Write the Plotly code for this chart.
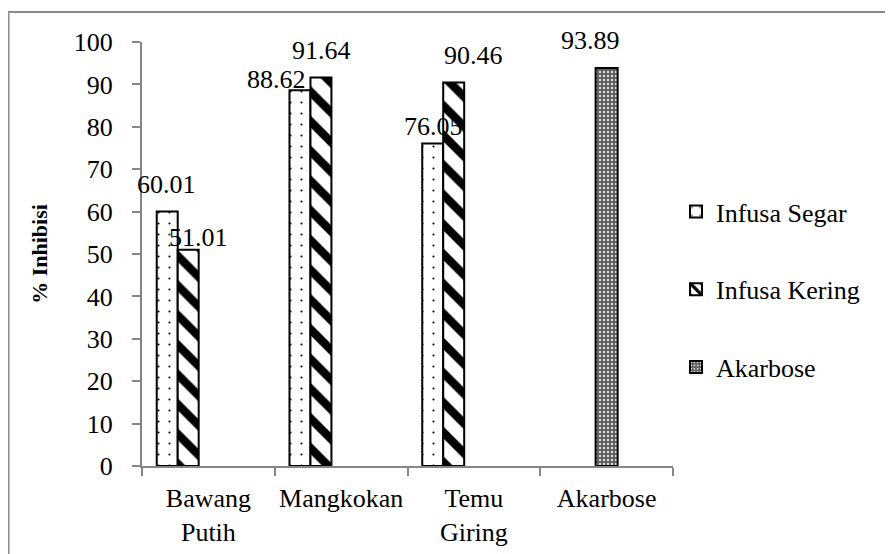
import plotly.graph_objects as go

categories = ["Bawang<br>Putih", "Mangkokan", "Temu<br>Giring", "Akarbose"]
plant_categories = categories[:3]
infusa_segar = [60.01, 88.62, 76.05]
infusa_kering = [51.01, 91.64, 90.46]
akarbose_cat = [categories[3]]
akarbose = [93.89]
y_ticks = [0, 10, 20, 30, 40, 50, 60, 70, 80, 90, 100]

FONT = "Liberation Serif, Times New Roman, serif"
AXIS_GRAY = "#868686"

# figure is offset by the page body's 8px margin
W, H = 885, 546
L, R, T, B = 134, 220, 34, 88
PW, PH = W - L - R, H - T - B  # 531 x 424


def px(fx):
    return (fx - L) / PW


def py(fy):
    return (H - B - fy) / PH


fig = go.Figure()
fig.add_trace(go.Bar(
    name="Infusa Segar", x=plant_categories, y=infusa_segar,
    offset=-0.389, width=0.158, legendgroup="a",
    marker=dict(color="white", line=dict(color="black", width=2),
                pattern=dict(shape=".", fgcolor="black", bgcolor="white", fgopacity=1,
                             size=11, solidity=0.03, fillmode="overlay")),
))
fig.add_trace(go.Bar(
    name="Infusa Kering", x=plant_categories, y=infusa_kering,
    offset=-0.231, width=0.158, legendgroup="b",
    marker=dict(color="white", line=dict(color="black", width=2),
                pattern=dict(shape="\\", fgcolor="black", bgcolor="white", fgopacity=1,
                             size=21, solidity=0.4, fillmode="overlay")),
))
fig.add_trace(go.Bar(
    name="Akarbose", x=akarbose_cat, y=akarbose,
    offset=-0.083, width=0.166, legendgroup="c",
    marker=dict(color="#606060", line=dict(color="black", width=2),
                pattern=dict(shape=".", fgcolor="#d8d8d8", bgcolor="#5c5c5c", fgopacity=1,
                             size=4, solidity=0.3, fillmode="replace")),
))

# data labels (x/y from the data; shifts are placement only)
label_specs = [
    (plant_categories[0], infusa_segar[0], -42, 27),
    (plant_categories[0], infusa_kering[0], -10, 12),
    (plant_categories[1], infusa_segar[1], -65, 11),
    (plant_categories[1], infusa_kering[1], -20, 27),
    (plant_categories[2], infusa_segar[2], -40, 17),
    (plant_categories[2], infusa_kering[2], 0, 27),
    (akarbose_cat[0], akarbose[0], -16, 27),
]
for cat, val, xs, ys in label_specs:
    fig.add_annotation(x=cat, y=val, xref="x", yref="y", text=f"{val:.2f}",
                       showarrow=False, xshift=xs, yshift=ys,
                       xanchor="center", yanchor="middle",
                       font=dict(family=FONT, size=26, color="black"))

fig.update_layout(
    width=W, height=H,
    margin=dict(l=L, r=R, t=T, b=B, autoexpand=False),
    paper_bgcolor="white", plot_bgcolor="white",
    font=dict(family=FONT, size=26, color="black"),
    barmode="overlay",
    showlegend=True,
    legend=dict(x=px(668), y=py(180), xanchor="left", yanchor="top",
                font=dict(family=FONT, size=26, color="black"),
                tracegroupgap=41, bgcolor="rgba(0,0,0,0)",
                itemsizing="constant"),
    shapes=[dict(type="rect", xref="paper", yref="paper",
                 x0=px(0.5), x1=px(W + 10),
                 y0=py(H + 10), y1=py(4),
                 line=dict(color="#8a8a8a", width=2), fillcolor="rgba(0,0,0,0)",
                 layer="below")],
)
fig.update_xaxes(
    type="category", categoryorder="array", categoryarray=categories,
    range=[-0.5, 3.5], tickangle=0,
    showline=True, linecolor=AXIS_GRAY, linewidth=2,
    ticks="outside", tickson="boundaries", ticklen=8, tickcolor=AXIS_GRAY, tickwidth=2,
    ticklabelstandoff=8,
    showgrid=False, zeroline=False,
    tickfont=dict(family=FONT, size=26, color="black"),
)
fig.update_yaxes(
    range=[0, 100], tickvals=y_ticks,
    showline=True, linecolor=AXIS_GRAY, linewidth=2,
    ticks="outside", ticklen=8, tickcolor=AXIS_GRAY, tickwidth=2,
    ticklabelstandoff=14,
    showgrid=False, zeroline=False,
    tickfont=dict(family=FONT, size=26, color="black"),
    title=dict(text="<b>% Inhibisi</b>", font=dict(family=FONT, size=22, color="black"),
               standoff=20),
)

fig.write_html("out.html")
